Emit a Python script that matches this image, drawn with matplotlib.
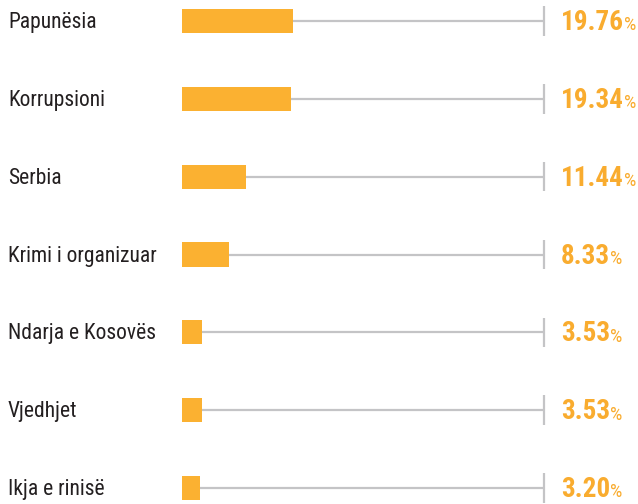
import matplotlib
matplotlib.use("Agg")
import matplotlib.pyplot as plt
from matplotlib.transforms import blended_transform_factory

categories = ["Papunësia", "Korrupsioni", "Serbia", "Krimi i organizuar",
              "Ndarja e Kosovës", "Vjedhjet", "Ikja e rinisë"]
values = [19.76, 19.34, 11.44, 8.33, 3.53, 3.53, 3.20]
value_labels = ["19.76", "19.34", "11.44", "8.33", "3.53", "3.53", "3.20"]

plt.rcParams['font.family'] = ['Roboto Condensed', 'DejaVu Sans']

BAR_COLOR = "#FBB131"
TEXT_ORANGE = "#F9AC2F"
GREY = "#C4C4C6"
DARK = "#231F20"

W, H = 638, 504
fig = plt.figure(figsize=(W / 100, H / 100), dpi=100)
x0 = 182
ax = fig.add_axes([x0 / W, 0, (W - x0) / W, 1])
px_per_unit = 111 / 19.76
ax.set_xlim(0, (W - x0) / px_per_unit)
row_px = 77.83
ax.set_ylim(6 + (H - 488) / row_px, -21 / row_px)
ax.axis("off")

x_end = (544 - x0) / px_per_unit
ypos = list(range(len(categories)))

ax.hlines(ypos, values, x_end, color=GREY, lw=1.6, zorder=1)
ax.vlines([x_end] * len(ypos), [y - 0.19 for y in ypos], [y + 0.19 for y in ypos],
          color=GREY, lw=1.6, zorder=1)
ax.barh(ypos, values, height=24 / row_px, left=0, color=BAR_COLOR, zorder=2)

tr = blended_transform_factory(fig.transFigure, ax.transData)
for y, cat, lab in zip(ypos, categories, value_labels):
    fig.text(8 / W, y + 0.02, cat, transform=tr, ha="left", va="center",
             fontsize=15.5, color=DARK)
    t = fig.text(561 / W, y + 0.02, lab, transform=tr, ha="left", va="center",
                 fontsize=19.5, fontweight="bold", color=TEXT_ORANGE)
    ax.annotate("%", xy=(1, 0), xycoords=t, xytext=(0, 1.2), textcoords="offset points",
                ha="left", va="bottom", fontsize=14, color=TEXT_ORANGE)

fig.savefig("out.png", dpi=100)
